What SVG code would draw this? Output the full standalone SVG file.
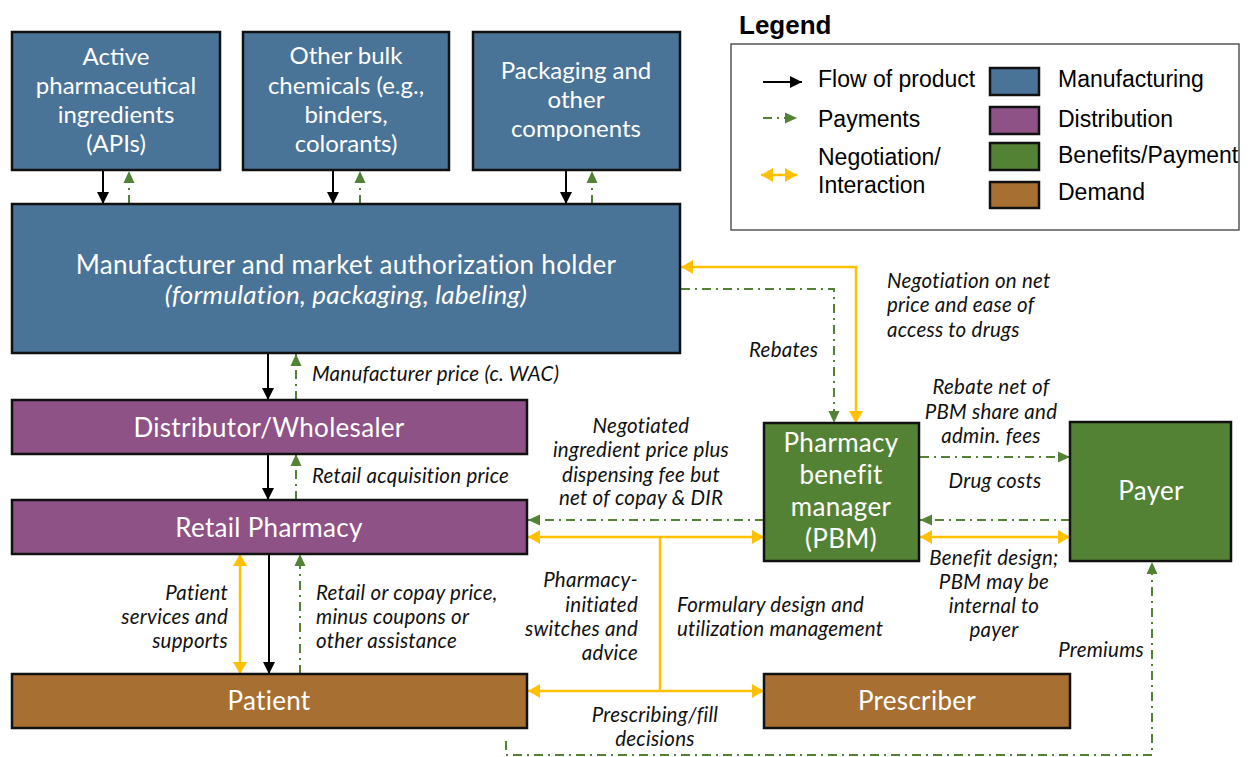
<svg xmlns="http://www.w3.org/2000/svg" width="1249" height="757" viewBox="0 0 1249 757">
<style>
.node{stroke:#111;stroke-width:2.5}
.mfg{fill:#4A7398}
.dist{fill:#8E5286}
.ben{fill:#548235}
.dem{fill:#A86F32}
.t{font-family:Lato,"Open Sans",sans-serif;fill:#fff;text-anchor:middle}
.t24{font-size:24px}
.t26{font-size:26px;letter-spacing:0.3px}
.lbl{font-family:Lato,"Open Sans",sans-serif;font-style:italic;font-size:20.5px;letter-spacing:0.25px;fill:#111}
.mid{text-anchor:middle}
.end{text-anchor:end}
.prod{fill:none;stroke:#000;stroke-width:2;marker-end:url(#ak)}
.pay{fill:none;stroke:#548235;stroke-width:2;stroke-dasharray:9 5 2 5;marker-end:url(#ag)}
.neg{fill:none;stroke:#FFC000;stroke-width:2.5;marker-start:url(#ay);marker-end:url(#ay)}
.negp{fill:none;stroke:#FFC000;stroke-width:2.5}
.leg{font-family:"Liberation Sans",Arial,sans-serif;font-size:23px;fill:#000}
</style>
<defs>
<marker id="ak" markerUnits="userSpaceOnUse" markerWidth="12" markerHeight="12" viewBox="0 0 12 12" refX="12" refY="6" orient="auto-start-reverse"><path d="M0,0L12,6L0,12z" fill="#000"/></marker>
<marker id="ag" markerUnits="userSpaceOnUse" markerWidth="12" markerHeight="12" viewBox="0 0 12 12" refX="12" refY="6" orient="auto-start-reverse"><path d="M0,0.5L12,6L0,11.5z" fill="#548235"/></marker>
<marker id="ay" markerUnits="userSpaceOnUse" markerWidth="12" markerHeight="14" viewBox="0 0 12 14" refX="12" refY="7" orient="auto-start-reverse"><path d="M0,0L12,7L0,14z" fill="#FFC000"/></marker>
</defs>

<g id="connectors">
<path class="prod" d="M103,171V204"/>
<path class="prod" d="M333,171V204"/>
<path class="prod" d="M566,171V204"/>
<path class="prod" d="M268,354V400"/>
<path class="prod" d="M268,454V500"/>
<path class="prod" d="M269,554V674"/>
<path class="pay" d="M129,204V171"/>
<path class="pay" d="M360,204V171"/>
<path class="pay" d="M592,204V171"/>
<path class="pay" d="M296,400V354"/>
<path class="pay" d="M296,500V454"/>
<path class="pay" d="M300,674V554"/>
<path class="pay" d="M681,289H834V423"/>
<path class="pay" d="M920,457H1070"/>
<path class="pay" d="M1070,520H920"/>
<path class="pay" d="M764,520H528"/>
<path class="pay" d="M506,741V755H1152V562"/>
<path class="neg" d="M240,554V674"/>
<path class="neg" d="M681,267H856V423"/>
<path class="neg" d="M528,537H764"/>
<path class="neg" d="M920,537H1070"/>
<path class="negp" d="M660,537V691"/>
<path class="neg" d="M528,691H764"/>
</g>

<g id="n-api"><rect class="node mfg" x="12" y="32" width="208" height="138"/>
<text class="t t24"><tspan x="116" y="65">Active</tspan><tspan x="116" y="94">pharmaceutical</tspan><tspan x="116" y="123">ingredients</tspan><tspan x="116" y="152">(APIs)</tspan></text></g>
<g id="n-bulk"><rect class="node mfg" x="243" y="32" width="206" height="138"/>
<text class="t t24"><tspan x="346" y="64">Other bulk</tspan><tspan x="346" y="94">chemicals (e.g.,</tspan><tspan x="346" y="123">binders,</tspan><tspan x="346" y="152">colorants)</tspan></text></g>
<g id="n-pack"><rect class="node mfg" x="473" y="32" width="207" height="138"/>
<text class="t t24"><tspan x="576" y="79">Packaging and</tspan><tspan x="576" y="108">other</tspan><tspan x="576" y="137">components</tspan></text></g>
<g id="n-manufacturer"><rect class="node mfg" x="12" y="204" width="668" height="149"/>
<text class="t t26" x="346" y="274">Manufacturer and market authorization holder</text>
<text class="t" x="346" y="304" style="font-size:26px;letter-spacing:0.2px;font-style:italic">(formulation, packaging, labeling)</text></g>
<g id="n-distributor"><rect class="node dist" x="12" y="400" width="515" height="54"/>
<text class="t t26" x="269" y="437">Distributor/Wholesaler</text></g>
<g id="n-retail"><rect class="node dist" x="12" y="500" width="515" height="54"/>
<text class="t t26" x="269" y="537">Retail Pharmacy</text></g>
<g id="n-patient"><rect class="node dem" x="12" y="674" width="515" height="54"/>
<text class="t t26" x="269" y="710">Patient</text></g>
<g id="n-prescriber"><rect class="node dem" x="764" y="674" width="306" height="54"/>
<text class="t t26" x="917" y="710">Prescriber</text></g>
<g id="n-pbm"><rect class="node ben" x="764" y="423" width="155" height="138"/>
<text class="t t26"><tspan x="841" y="452">Pharmacy</tspan><tspan x="841" y="484">benefit</tspan><tspan x="841" y="516">manager</tspan><tspan x="841" y="548">(PBM)</tspan></text></g>
<g id="n-payer"><rect class="node ben" x="1070" y="422" width="161" height="139"/>
<text class="t t26" x="1151" y="500">Payer</text></g>

<g id="labels">
<text class="lbl" x="312" y="381">Manufacturer price (c. WAC)</text>
<text class="lbl" x="312" y="483">Retail acquisition price</text>
<text class="lbl"><tspan x="887" y="288">Negotiation on net</tspan><tspan x="887" y="312">price and ease of</tspan><tspan x="887" y="337">access to drugs</tspan></text>
<text class="lbl" x="749" y="357">Rebates</text>
<text class="lbl mid"><tspan x="991" y="394">Rebate net of</tspan><tspan x="991" y="419">PBM share and</tspan><tspan x="991" y="443">admin. fees</tspan></text>
<text class="lbl mid" x="995" y="488">Drug costs</text>
<text class="lbl mid"><tspan x="641" y="433">Negotiated</tspan><tspan x="641" y="457">ingredient price plus</tspan><tspan x="641" y="482">dispensing fee but</tspan><tspan x="641" y="505">net of copay &amp; DIR</tspan></text>
<text class="lbl mid"><tspan x="994" y="565">Benefit design;</tspan><tspan x="994" y="589">PBM may be</tspan><tspan x="994" y="613">internal to</tspan><tspan x="994" y="637">payer</tspan></text>
<text class="lbl end" x="1144" y="657">Premiums</text>
<text class="lbl end"><tspan x="638" y="587">Pharmacy-</tspan><tspan x="638" y="612">initiated</tspan><tspan x="638" y="636">switches and</tspan><tspan x="638" y="660">advice</tspan></text>
<text class="lbl"><tspan x="677" y="612">Formulary design and</tspan><tspan x="677" y="636">utilization management</tspan></text>
<text class="lbl mid"><tspan x="655" y="722">Prescribing/fill</tspan><tspan x="655" y="746">decisions</tspan></text>
<text class="lbl end"><tspan x="228" y="600">Patient</tspan><tspan x="228" y="624">services and</tspan><tspan x="228" y="648">supports</tspan></text>
<text class="lbl"><tspan x="316" y="600">Retail or copay price,</tspan><tspan x="316" y="624">minus coupons or</tspan><tspan x="316" y="648">other assistance</tspan></text>
</g>

<g id="legend">
<text x="739" y="34" style="font-family:'Liberation Sans',Arial,sans-serif;font-size:26px;font-weight:bold;fill:#000">Legend</text>
<rect x="731" y="44" width="508" height="186" fill="#fff" stroke="#555" stroke-width="1.5"/>
<path d="M763,82H802" fill="none" stroke="#000" stroke-width="2" marker-end="url(#ak)"/>
<path d="M763,118H797" fill="none" stroke="#548235" stroke-width="2" stroke-dasharray="9 5 2 5" marker-end="url(#ag)"/>
<path d="M761,175H797" fill="none" stroke="#FFC000" stroke-width="2.5" marker-start="url(#ay)" marker-end="url(#ay)"/>
<text class="leg" x="818" y="87">Flow of product</text>
<text class="leg" x="818" y="127">Payments</text>
<text class="leg"><tspan x="818" y="165">Negotiation/</tspan><tspan x="818" y="193">Interaction</tspan></text>
<rect class="node mfg" x="990" y="68" width="49" height="27"/>
<rect class="node dist" x="990" y="107" width="49" height="27"/>
<rect class="node ben" x="990" y="143" width="49" height="27"/>
<rect class="node dem" x="990" y="182" width="49" height="26"/>
<text class="leg" x="1058" y="87">Manufacturing</text>
<text class="leg" x="1058" y="127">Distribution</text>
<text class="leg" x="1058" y="163">Benefits/Payment</text>
<text class="leg" x="1058" y="200">Demand</text>
</g>
</svg>
